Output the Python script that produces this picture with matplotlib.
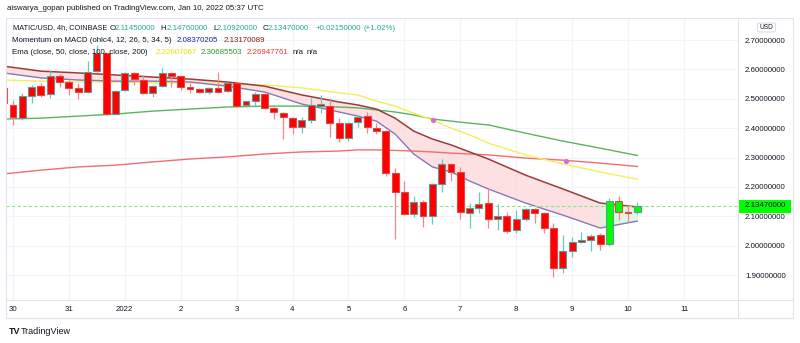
import numpy as np
import matplotlib
matplotlib.use('Agg')
import matplotlib.pyplot as plt
from matplotlib.patches import Rectangle, FancyBboxPatch
from matplotlib.lines import Line2D

# ---------------- data (4h candles, index 0 = Dec 30 00:00) ----------------
candle_idx = list(range(-1, 68))
opens = [2.537, 2.479, 2.434, 2.510, 2.544, 2.515, 2.578, 2.558, 2.538, 2.524,
         2.595, 2.657, 2.448, 2.530, 2.588, 2.564, 2.521, 2.544, 2.589, 2.577,
         2.539, 2.533, 2.524, 2.536, 2.527, 2.555, 2.479, 2.492, 2.515, 2.467,
         2.453, 2.433, 2.403, 2.428, 2.476, 2.475, 2.416, 2.365, 2.420, 2.442,
         2.399, 2.390, 2.248, 2.184, 2.108, 2.150, 2.102, 2.210, 2.277, 2.252,
         2.112, 2.127, 2.144, 2.091, 2.102, 2.053, 2.091, 2.124, 2.112, 2.059,
         1.923, 1.983, 2.011, 2.019, 2.036, 2.005, 2.152, 2.116, 2.1145]
highs = [2.543, 2.496, 2.520, 2.547, 2.554, 2.598, 2.583, 2.564, 2.555, 2.630,
         2.683, 2.659, 2.530, 2.592, 2.592, 2.581, 2.547, 2.605, 2.591, 2.577,
         2.555, 2.536, 2.541, 2.592, 2.558, 2.558, 2.492, 2.524, 2.520, 2.473,
         2.456, 2.439, 2.439, 2.503, 2.513, 2.503, 2.433, 2.422, 2.445, 2.454,
         2.418, 2.394, 2.265, 2.220, 2.169, 2.155, 2.213, 2.294, 2.282, 2.267,
         2.144, 2.182, 2.195, 2.141, 2.116, 2.121, 2.128, 2.127, 2.116, 2.076,
         2.036, 2.030, 2.045, 2.039, 2.042, 2.161, 2.169, 2.138, 2.1476]
lows = [2.475, 2.411, 2.428, 2.486, 2.506, 2.503, 2.541, 2.513, 2.499, 2.520,
        2.591, 2.445, 2.445, 2.526, 2.547, 2.516, 2.506, 2.540, 2.541, 2.530,
        2.519, 2.521, 2.516, 2.521, 2.524, 2.472, 2.472, 2.472, 2.465, 2.431,
        2.363, 2.380, 2.384, 2.417, 2.452, 2.371, 2.354, 2.357, 2.403, 2.384,
        2.380, 2.237, 2.022, 2.104, 2.098, 2.064, 2.074, 2.182, 2.220, 2.091,
        2.061, 2.112, 2.059, 2.053, 2.042, 2.042, 2.084, 2.076, 2.042, 1.894,
        1.906, 1.962, 2.008, 1.983, 1.985, 2.000, 2.087, 2.081, 2.1092]
closes = [2.486, 2.438, 2.509, 2.541, 2.513, 2.577, 2.558, 2.538, 2.524, 2.592,
          2.656, 2.448, 2.527, 2.588, 2.567, 2.519, 2.543, 2.587, 2.577, 2.539,
          2.533, 2.524, 2.536, 2.524, 2.555, 2.475, 2.492, 2.515, 2.467, 2.454,
          2.437, 2.403, 2.428, 2.479, 2.482, 2.416, 2.365, 2.418, 2.439, 2.403,
          2.391, 2.248, 2.184, 2.107, 2.150, 2.102, 2.209, 2.277, 2.252, 2.113,
          2.127, 2.142, 2.091, 2.102, 2.051, 2.091, 2.124, 2.112, 2.059, 1.923,
          1.983, 2.011, 2.019, 2.034, 2.005, 2.152, 2.116, 2.110, 2.1347]

day_labels = ['30', '31', '2022', '2', '3', '4', '5', '6', '7', '8', '9', '10', '11']
day_idx = [0, 6, 12, 18, 24, 30, 36, 42, 48, 54, 60, 66, 72]
price_ticks = [1.9, 2.0, 2.1, 2.2, 2.3, 2.4, 2.5, 2.6, 2.7]

# indicator lines at these candle indices
line_idx = [-1, 3, 7, 11, 15, 19, 23, 27, 31, 35, 37, 39, 41, 43, 45, 47, 49, 51,
            55, 59, 63, 67]
mom_slow = [2.611, 2.594, 2.588, 2.581, 2.574, 2.567, 2.557, 2.543, 2.513, 2.489,
            2.479, 2.465, 2.434, 2.390, 2.363, 2.343, 2.319, 2.295,
            2.240, 2.193, 2.145, 2.1317]
mom_fast = [2.588, 2.571, 2.564, 2.560, 2.560, 2.557, 2.543, 2.523, 2.482, 2.455,
            2.441, 2.424, 2.380, 2.312, 2.268, 2.251, 2.220, 2.193,
            2.145, 2.104, 2.060, 2.0837]
ema50 = [2.564, 2.560, 2.557, 2.557, 2.554, 2.554, 2.550, 2.547, 2.537, 2.520,
         2.513, 2.492, 2.475, 2.451, 2.428, 2.400, 2.377, 2.349,
         2.309, 2.278, 2.251, 2.2261]
ema100 = [2.431, 2.434, 2.441, 2.448, 2.458, 2.465, 2.472, 2.475, 2.475, 2.472,
          2.469, 2.462, 2.455, 2.445, 2.431, 2.424, 2.417, 2.411,
          2.383, 2.356, 2.332, 2.3069]
ema200 = [2.244, 2.257, 2.268, 2.274, 2.285, 2.295, 2.302, 2.312, 2.319, 2.322,
          2.326, 2.326, 2.324, 2.322, 2.319, 2.315, 2.312, 2.309,
          2.298, 2.291, 2.281, 2.2695]
cross_idx = [45.1, 59.3]
cross_val = [2.428, 2.288]
last_price = 2.1347

# ---------------- figure ----------------
W, H = 800, 343
FONT = ['Liberation Sans', 'DejaVu Sans']
DARK = '#131722'
GRID = '#f0f3fa'
BORDER = '#e0e3eb'
plt.rcParams['font.family'] = FONT

fig = plt.figure(figsize=(W / 100, H / 100), dpi=100)
fig.patch.set_facecolor('white')

def fx(px):
    return px / W

def fy(py):
    return 1 - py / H

ax = fig.add_axes([fx(6), fy(300), (738 - 6) / W, (300 - 18) / H])
ax.set_facecolor('white')
ax.set_xlim(-0.75, 77.8)
ax.set_ylim(1.8149, 2.775)
for s in ax.spines.values():
    s.set_visible(False)

ax.set_xticks(day_idx)
ax.set_xticklabels(day_labels, fontsize=5.7, color=DARK)
ax.set_yticks(price_ticks)
ax.set_yticklabels(['%.8f' % v for v in price_ticks], fontsize=5.7, color=DARK, ha='left')
ax.yaxis.tick_right()
ax.tick_params(axis='y', length=0, pad=5.0)
ax.tick_params(axis='x', length=0, pad=4.3)
ax.grid(True, color=GRID, lw=0.8, zorder=0)
ax.set_axisbelow(True)

li = np.array(line_idx)
ms = np.array(mom_slow)
mf = np.array(mom_fast)
ax.fill_between(li, ms, mf, where=li <= 63, color='#fcd9db', alpha=0.8, lw=0, zorder=1, interpolate=True)
ax.fill_between(li, ms, mf, where=li >= 63, color='#e0f4e0', alpha=0.9, lw=0, zorder=1, interpolate=True)
ax.plot(li, ema200, color='#f26d6d', lw=1.0, zorder=2)
ax.plot(li, ema100, color='#5db35d', lw=1.0, zorder=2)
ax.plot(li, ema50, color='#f5ee5a', lw=1.0, zorder=2)
ax.plot(li, ms, color='#9c3a3a', lw=1.1, zorder=2)
ax.plot(li, mf, color='#8878b8', lw=1.0, zorder=2)

ax.axhline(last_price, color='#8fe38f', lw=0.8, ls=(0, (3, 2)), zorder=2)

# candles
x = np.array(candle_idx)
o = np.array(opens); h = np.array(highs); l = np.array(lows); c = np.array(closes)
up = c >= o
wick_cols = ['#6cc6bb' if u else '#f2868a' for u in up]
ax.vlines(x, l, h, colors=wick_cols, lw=0.9, zorder=3)
body_cols = ['#00ff00' if i >= 64 else '#ff0000' for i in candle_idx]
edge_cols = ['#5c9c96' if u else '#e04848' for u in up]
bottoms = np.minimum(o, c)
heights = np.maximum(np.abs(c - o), 0.004)
ax.bar(x, heights, bottom=bottoms, width=0.74, color=body_cols,
       edgecolor=edge_cols, linewidth=0.8, zorder=4)

ax.scatter(cross_idx, cross_val, s=14, color='#e066d8', zorder=5, lw=0)

# frame lines
def hline(y, x0, x1):
    fig.add_artist(Line2D([fx(x0), fx(x1)], [fy(y), fy(y)], color=BORDER, lw=0.8))

def vline(xp, y0, y1):
    fig.add_artist(Line2D([fx(xp), fx(xp)], [fy(y0), fy(y1)], color=BORDER, lw=0.8))

hline(18, 6, 793)
hline(300, 6, 793)
hline(318, 6, 793)
vline(6, 18, 318)
vline(738, 18, 318)
vline(793, 18, 318)

# price label
fig.add_artist(Rectangle((fx(739), fy(212.5)), 52 / W, 13 / H, color='#00ff00', lw=0))
fig.text(fx(765), fy(206), '2.13470000', fontsize=5.7, color=DARK, ha='center', va='center')

# USD box
fig.add_artist(FancyBboxPatch((fx(757.5), fy(32)), 18 / W, 9 / H,
                              boxstyle='round,pad=0,rounding_size=0.004',
                              fc='white', ec='#d1d4dc', lw=0.6))
fig.text(fx(766.5), fy(27.5), 'USD', fontsize=4.8, color=DARK, ha='center', va='center')

# title
fig.text(fx(7), fy(9), 'aiswarya_gopan published on TradingView.com, Jan 10, 2022 05:37 UTC',
         fontsize=5.7, color=DARK, ha='left', va='center')

TEAL = '#22ab94'
def run(parts, y, size=5.7):
    for txt, col, xp in parts:
        fig.text(fx(xp), fy(y), txt, fontsize=size, color=col, ha='left', va='center')

run([('MATIC/USD, 4h, COINBASE', DARK, 12.7)], 28, size=5.3)
run([('O', DARK, 109.5), ('2.11450000', TEAL, 115),
     ('H', DARK, 160.7), ('2.14760000', TEAL, 167), ('L', DARK, 213), ('2.10920000', TEAL, 217),
     ('C', DARK, 262.5), ('2.13470000', TEAL, 268), ('+0.02150000', TEAL, 316),
     ('(+1.02%)', TEAL, 363)], 28)
run([('Momentum on MACD (ohlc4, 12, 26, 5, 34, 5)', DARK, 12), ('2.08370205', '#1f22a0', 177),
     ('2.13170089', '#8b1a1a', 224)], 40)
run([('Ema (close, 50, close, 100, close, 200)', DARK, 12), ('2.22607067', '#e8e000', 156),
     ('2.30685503', '#2a9a2a', 201), ('2.26947761', '#ff2d2d', 247),
     ('n/a', DARK, 293), ('n/a', DARK, 307)], 52)

# TradingView logo
fig.text(fx(9), fy(332), 'TV', fontsize=6.5, color=DARK, ha='left', va='center', weight='bold')
fig.text(fx(21), fy(332), 'TradingView', fontsize=6.5, color=DARK, ha='left', va='center')

fig.savefig('out.png', dpi=100, facecolor='white')
